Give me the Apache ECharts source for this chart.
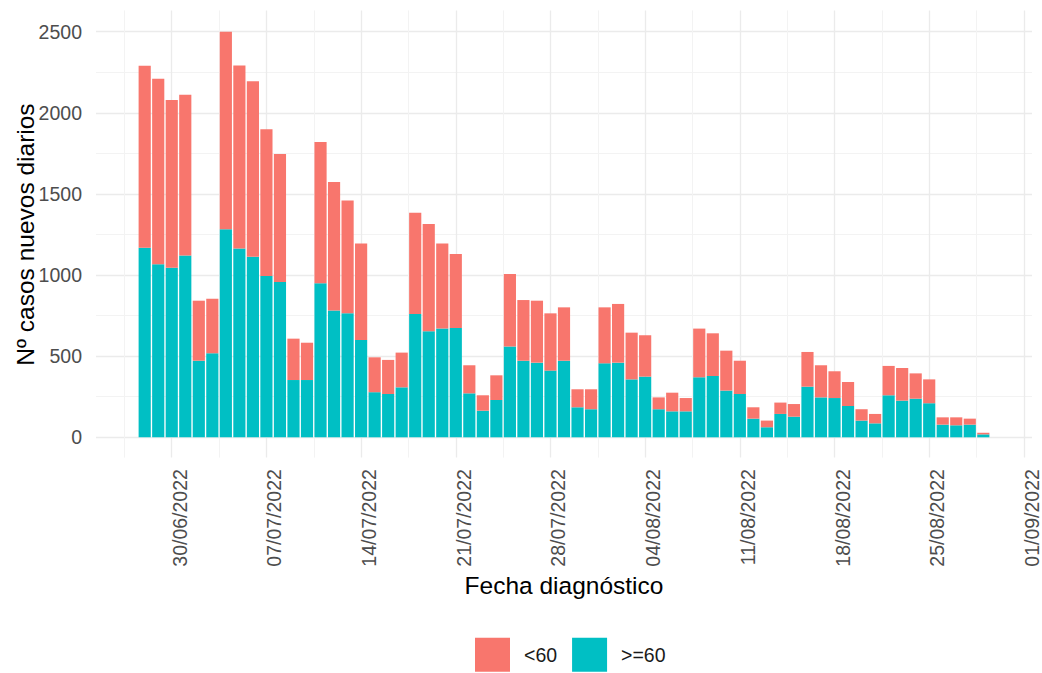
<!DOCTYPE html>
<html><head><meta charset="utf-8">
<script src="https://cdn.jsdelivr.net/npm/echarts@6/dist/echarts.min.js"></script>
<style>html,body{margin:0;padding:0;background:#fff}#c{width:1042px;height:673px}</style>
</head><body><div id="c"></div>
<script>
// ---- data ----
const dates = [
  '28/06/2022','29/06/2022','30/06/2022',
  '01/07/2022','02/07/2022','03/07/2022','04/07/2022','05/07/2022','06/07/2022','07/07/2022','08/07/2022','09/07/2022','10/07/2022',
  '11/07/2022','12/07/2022','13/07/2022','14/07/2022','15/07/2022','16/07/2022','17/07/2022','18/07/2022','19/07/2022','20/07/2022',
  '21/07/2022','22/07/2022','23/07/2022','24/07/2022','25/07/2022','26/07/2022','27/07/2022','28/07/2022','29/07/2022','30/07/2022','31/07/2022',
  '01/08/2022','02/08/2022','03/08/2022','04/08/2022','05/08/2022','06/08/2022','07/08/2022','08/08/2022','09/08/2022','10/08/2022',
  '11/08/2022','12/08/2022','13/08/2022','14/08/2022','15/08/2022','16/08/2022','17/08/2022','18/08/2022','19/08/2022','20/08/2022',
  '21/08/2022','22/08/2022','23/08/2022','24/08/2022','25/08/2022','26/08/2022','27/08/2022','28/08/2022','29/08/2022'
];
const lt60 = [
  1121,1144,1034,991,370,336,1224,1129,1081,904,
  789,255,230,871,792,696,595,215,210,214,
  624,662,525,456,173,95,152,447,374,382,
  353,329,111,123,345,362,288,255,73,115,
  82,300,263,246,205,70,41,70,78,214,
  198,165,148,70,58,181,201,156,147,45,
  49,37,10
];
const ge60 = [
  1169,1066,1045,1121,472,518,1282,1163,1113,994,
  957,353,353,949,781,764,600,278,267,308,
  760,653,670,674,271,164,230,559,472,460,
  411,472,185,173,456,460,357,374,173,160,
  160,370,378,288,267,115,62,144,127,312,
  246,242,193,103,86,259,226,238,210,78,
  74,78,18
];
const xTickLabels = ['30/06/2022','07/07/2022','14/07/2022','21/07/2022','28/07/2022','04/08/2022','11/08/2022','18/08/2022','25/08/2022','01/09/2022'];
const yTickLabels = ['0','500','1000','1500','2000','2500'];
const seriesNames = ['<60', '>=60'];
const xTitle = 'Fecha diagnóstico';
const yTitle = 'Nº casos nuevos diarios';

// ---- helpers ----
const REF = Date.UTC(2022, 5, 30);
function dayOffset(s) {
  const p = s.split('/');
  return Math.round((Date.UTC(+p[2], +p[1] - 1, +p[0]) - REF) / 86400000);
}
const firstDay = dayOffset(dates[0]);
const lastDay = dayOffset(dates[dates.length - 1]);

// ---- layout ----
const W = 1042, H = 673;
const PL = 96, PR = 1032, PT = 10.4, PB = 457.6;
const Y0 = 437.3, YTOP = 31.7;
const XMIN = -5.6, XMAX = 63.6;   // panel edges in days relative to 30/06/2022
const s = (PR - PL) / (XMAX - XMIN);
const xAt = d => PL + (d - XMIN) * s;
const FONT = '"Liberation Sans", Arial, Helvetica, sans-serif';
const GRID_MAJOR = '#EBEBEB', GRID_MINOR = '#F3F3F3';

const chart = echarts.init(document.getElementById('c'), null, {renderer: 'svg', width: W, height: H});
chart.setOption({
  animation: false,
  backgroundColor: '#ffffff',
  textStyle: {fontFamily: FONT},
  grid: [
    // panel: horizontal grid, y labels, titles
    {left: PL, right: W - PR, top: YTOP, bottom: H - Y0, outerBoundsMode: 'none', containLabel: false},
    // vertical grid lines and date labels
    {left: xAt(-7), width: xAt(70) - xAt(-7), top: PT, bottom: H - PB, outerBoundsMode: 'none', containLabel: false},
    // bars: one band per day
    {left: xAt(firstDay - 0.5), width: (lastDay - firstDay + 1) * s, top: YTOP, bottom: H - Y0, outerBoundsMode: 'none', containLabel: false}
  ],
  legend: {
    data: seriesNames,
    left: 475, top: 637.7, padding: 0,
    itemWidth: 35, itemHeight: 34, itemGap: 15,
    icon: 'rect',
    textStyle: {fontSize: 19.5, color: '#1a1a1a', fontFamily: FONT, padding: [0, 0, 0, 9]},
    selectedMode: false
  },
  xAxis: [
    {
      gridIndex: 0, type: 'value', min: XMIN, max: XMAX,
      axisLine: {show: false}, axisTick: {show: false}, axisLabel: {show: false}, splitLine: {show: false},
      name: xTitle, nameLocation: 'middle', nameGap: 136, nameMoveOverlap: false,
      nameTextStyle: {fontSize: 24.5, color: '#000', fontFamily: FONT}
    },
    {
      gridIndex: 1, type: 'value', min: -7, max: 70, interval: 7,
      axisLine: {show: false}, axisTick: {show: false},
      axisLabel: {
        rotate: 90, margin: 11.5, verticalAlign: 'top', lineHeight: 16,
        fontSize: 19.5, color: '#4D4D4D', fontFamily: FONT,
        formatter: v => { const i = Math.round(v / 7); return (i >= 0 && i < xTickLabels.length) ? xTickLabels[i] : ''; }
      },
      splitLine: {show: true, showMinLine: false, showMaxLine: false, lineStyle: {color: GRID_MAJOR, width: 1.3}},
      minorTick: {show: false, splitNumber: 2},
      minorSplitLine: {show: true, lineStyle: {color: GRID_MINOR, width: 1}}
    },
    {
      gridIndex: 2, type: 'category', data: dates, boundaryGap: true, show: false
    }
  ],
  yAxis: [
    {
      gridIndex: 0, type: 'value', min: 0, max: 2500, interval: 500,
      axisLine: {show: false}, axisTick: {show: false},
      axisLabel: {
        margin: 14, fontSize: 19.5, color: '#4D4D4D', fontFamily: FONT,
        formatter: v => { const i = Math.round(v / 500); return yTickLabels[i] !== undefined ? yTickLabels[i] : ''; }
      },
      splitLine: {show: true, lineStyle: {color: GRID_MAJOR, width: 1.3}},
      minorTick: {show: false, splitNumber: 2},
      minorSplitLine: {show: true, lineStyle: {color: GRID_MINOR, width: 1}},
      name: yTitle, nameLocation: 'middle', nameGap: 58, nameMoveOverlap: false,
      nameTextStyle: {fontSize: 24.5, color: '#000', fontFamily: FONT}
    },
    {gridIndex: 1, type: 'value', min: 0, max: 1, show: false},
    {gridIndex: 2, type: 'value', min: 0, max: 2500, show: false}
  ],
  series: [
    {
      name: seriesNames[1], type: 'bar', stack: 'total', xAxisIndex: 2, yAxisIndex: 2,
      barCategoryGap: '10%', itemStyle: {color: '#00BFC4'},
      data: ge60
    },
    {
      name: seriesNames[0], type: 'bar', stack: 'total', xAxisIndex: 2, yAxisIndex: 2,
      barCategoryGap: '10%', itemStyle: {color: '#F8766D'},
      data: lt60
    }
  ]
});
</script>
</body></html>
